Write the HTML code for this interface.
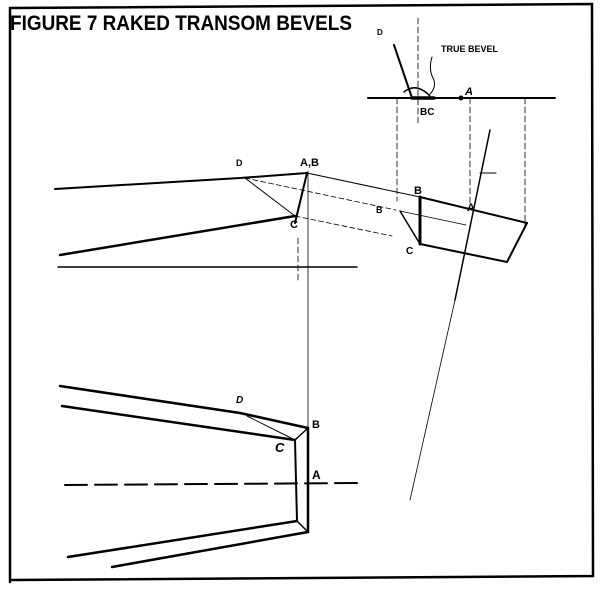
<!DOCTYPE html>
<html><head><style>
body{margin:0;background:#fff;}
svg{display:block}
text{font-family:"Liberation Sans",sans-serif;font-weight:bold;fill:#000}
</style></head><body>
<svg width="600" height="590" viewBox="0 0 600 590">
<g stroke="#000" fill="none" stroke-linecap="round">
<!-- frame -->
<polyline points="10,582 10,8 592,4 593,576 12,580" stroke-width="2.5"/>
<!-- upper right -->
<line x1="368" y1="98" x2="555" y2="98" stroke-width="2"/>
<line x1="394" y1="45" x2="412" y2="98" stroke-width="2"/>
<line x1="412" y1="98" x2="434" y2="98" stroke-width="3.5"/>
<path d="M404,92 Q416,82 430,96" stroke-width="1.5"/>
<path d="M432,57 Q428,70 434,80 Q436,88 430,94" stroke-width="1"/>
<circle cx="461" cy="98" r="2" fill="#000"/>
<g stroke-width="0.8" stroke-dasharray="6,3">
<line x1="418" y1="18" x2="418" y2="125"/>
<line x1="397" y1="98" x2="397" y2="201"/>
<line x1="470" y1="98" x2="470" y2="206"/>
<line x1="525" y1="98" x2="525" y2="227"/>
<line x1="298" y1="238" x2="298" y2="283"/>
</g>
<!-- middle -->
<polyline points="55,189 240,178 307,173" stroke-width="2"/>
<line x1="307" y1="173" x2="295" y2="223" stroke-width="2"/>
<polyline points="295,216 60,255" stroke-width="2.5"/>
<line x1="245" y1="178" x2="295" y2="216" stroke-width="1"/>
<line x1="307" y1="173" x2="420" y2="197" stroke-width="1"/>
<line x1="420" y1="197" x2="527" y2="223" stroke-width="2"/>
<line x1="245" y1="178" x2="396" y2="210" stroke-width="0.8" stroke-dasharray="5,3"/>
<line x1="295" y1="216" x2="392" y2="236" stroke-width="0.8" stroke-dasharray="5,3"/>
<line x1="400" y1="211" x2="466" y2="225" stroke-width="0.8"/>
<line x1="420" y1="197" x2="420" y2="244" stroke-width="3"/>
<line x1="400" y1="211" x2="420" y2="244" stroke-width="1.5"/>
<polyline points="420,244 507,262 527,223" stroke-width="2"/>
<line x1="490" y1="130" x2="455" y2="300" stroke-width="1.5"/>
<line x1="455" y1="300" x2="410" y2="500" stroke-width="0.8"/>
<line x1="480" y1="173" x2="496" y2="173" stroke-width="1"/>
<line x1="58" y1="267" x2="357" y2="267" stroke-width="1.5"/>
<line x1="308" y1="171" x2="308" y2="428" stroke-width="0.8"/>
<!-- bottom -->
<polyline points="60,386 240,413 308,428" stroke-width="2.5"/>
<polyline points="62,406 295,440" stroke-width="2.5"/>
<line x1="247" y1="416" x2="295" y2="440" stroke-width="1"/>
<line x1="308" y1="428" x2="295" y2="440" stroke-width="1.5"/>
<line x1="295" y1="440" x2="297" y2="521" stroke-width="2"/>
<line x1="308" y1="428" x2="308" y2="532" stroke-width="2.5"/>
<line x1="297" y1="521" x2="308" y2="532" stroke-width="1.5"/>
<polyline points="297,521 68,557" stroke-width="2.5"/>
<polyline points="308,532 112,567" stroke-width="2.5"/>
<line x1="65" y1="485" x2="358" y2="483" stroke-width="2" stroke-dasharray="22,8"/>
</g>
<text x="10" y="30" font-size="21" textLength="342" lengthAdjust="spacingAndGlyphs">FIGURE 7 RAKED TRANSOM BEVELS</text>
<text x="377" y="35" font-size="8">D</text>
<text x="441" y="52" font-size="9" font-weight="normal">TRUE BEVEL</text>
<text x="465" y="95" font-size="11" font-style="italic">A</text>
<text x="420" y="115" font-size="10">BC</text>
<text x="236" y="166" font-size="9">D</text>
<text x="300" y="166" font-size="11">A,B</text>
<text x="290" y="228" font-size="11">C</text>
<text x="376" y="213" font-size="9">B</text>
<text x="414" y="194" font-size="11">B</text>
<text x="406" y="254" font-size="10">C</text>
<text x="467" y="211" font-size="11">A</text>
<text x="236" y="403" font-size="10" font-style="italic">D</text>
<text x="312" y="428" font-size="11">B</text>
<text x="275" y="452" font-size="13" font-style="italic">C</text>
<text x="312" y="479" font-size="12">A</text>
</svg>
</body></html>
